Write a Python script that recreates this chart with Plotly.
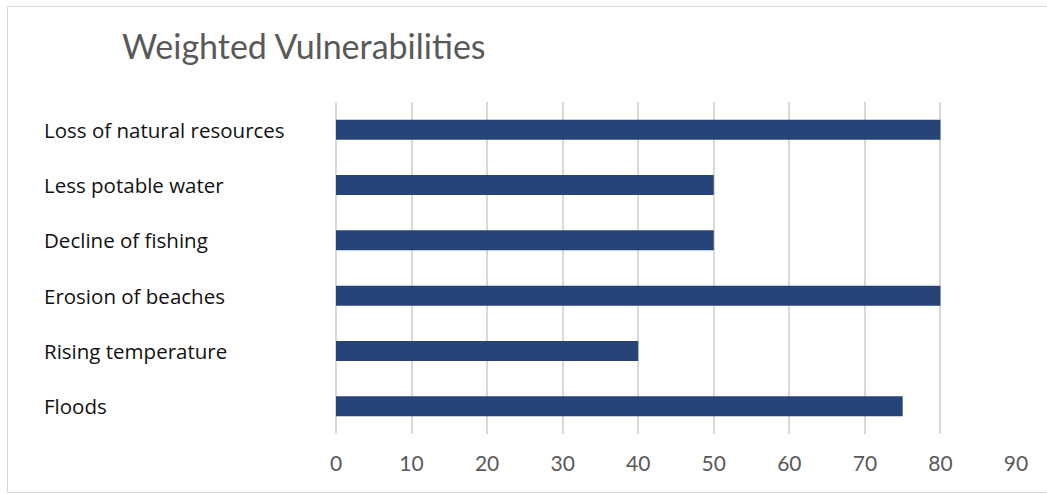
import plotly.graph_objects as go

categories = ["Loss of natural resources", "Less potable water", "Decline of fishing",
              "Erosion of beaches", "Rising temperature", "Floods"]
values = [80, 50, 50, 80, 40, 75]
tick_vals = [0, 10, 20, 30, 40, 50, 60, 70, 80, 90]
tick_text = ["0", "10", "20", "30", "40", "50", "60", "70", "80", "90"]
title_text = "Weighted Vulnerabilities"

W, H = 1047, 494
L, R, T, B = 336, 31, 102, 60
pw = W - L - R
ph = H - T - B

def px_x(p):
    return (p - L) / pw

def px_y(p):
    return (H - B - p) / ph

fig = go.Figure()
fig.add_trace(go.Bar(
    y=categories, x=values, orientation="h",
    marker=dict(color="#264478", line=dict(width=0)),
    width=0.36,
))

for c in categories:
    fig.add_annotation(x=px_x(42), xref="paper", y=c, yref="y", text=c,
                       showarrow=False, xanchor="left", yanchor="middle",
                       font=dict(family="Open Sans, sans-serif", size=20.5, color="#111111"))

fig.add_annotation(x=px_x(120), xref="paper", y=px_y(45), yref="paper", text=title_text,
                   showarrow=False, xanchor="left", yanchor="middle",
                   font=dict(family="Lato, sans-serif", size=34, color="#595959"))

fig.add_shape(type="rect", xref="paper", yref="paper",
              x0=px_x(7.5), x1=px_x(1060), y0=px_y(6.5), y1=px_y(492.5),
              line=dict(color="#d9d9d9", width=1), fillcolor="rgba(0,0,0,0)", layer="below")

fig.update_layout(
    width=W, height=H,
    margin=dict(l=L, r=R, t=T, b=B),
    paper_bgcolor="white", plot_bgcolor="white",
    showlegend=False,
    xaxis=dict(range=[0, 90], tickvals=tick_vals, ticktext=tick_text,
               showgrid=True, gridcolor="#d9d9d9", gridwidth=1.5,
               zeroline=True, zerolinecolor="#d9d9d9", zerolinewidth=1.5,
               showline=False, ticks="", ticklabelstandoff=15,
               tickfont=dict(family="Lato, sans-serif", size=21, color="#595959"),
               fixedrange=True),
    yaxis=dict(categoryorder="array", categoryarray=categories, autorange="reversed",
               showticklabels=False, showgrid=False, zeroline=False, showline=False,
               ticks="", fixedrange=True),
)

fig.write_html("out.html")
